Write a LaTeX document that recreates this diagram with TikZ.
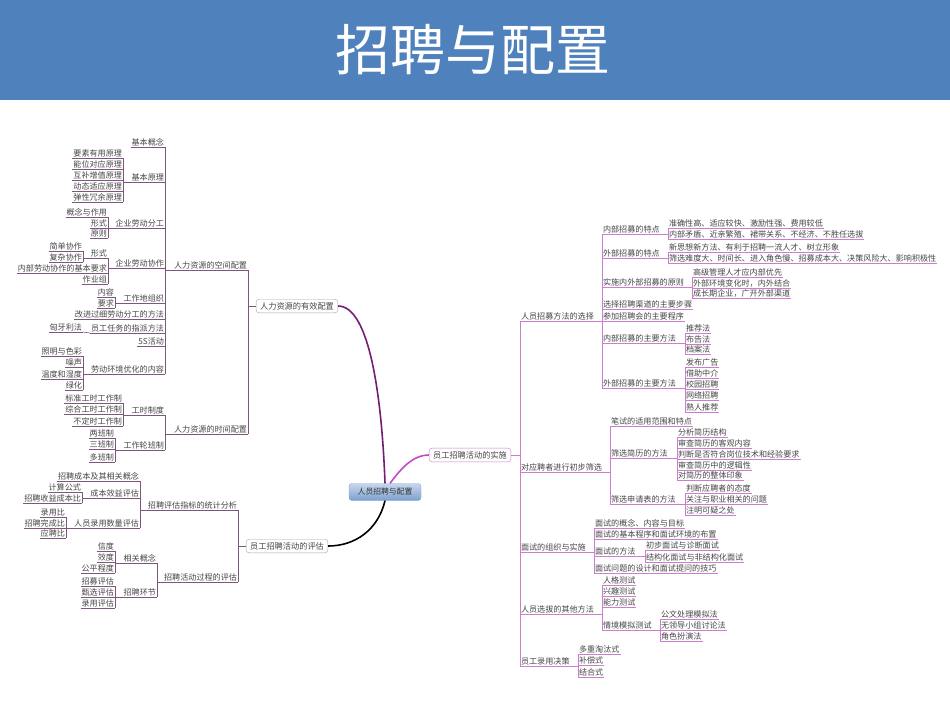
\documentclass[tikz,border=0pt]{standalone}
\usepackage{fontspec}
\setmainfont{Noto Sans CJK SC}
\definecolor{barblue}{RGB}{79,129,189}
\definecolor{lcol}{RGB}{125,85,125}
\definecolor{rcol}{RGB}{205,125,205}
\definecolor{txt}{RGB}{70,70,70}
\definecolor{c1}{RGB}{115,30,115}
\definecolor{c2}{RGB}{200,70,200}
\newcommand\LI[4]{\node[litem] (#1) at (#2,#3) {#4}; \draw[lline] (#1.south west)--(#1.south east);}
\newcommand\RI[4]{\node[ritem] (#1) at (#2,#3) {#4}; \draw[rline] (#1.south west)--(#1.south east);}
\newcommand\grpL[3]{\draw[lline] (#2.south east)--(#3.south east) (#2.south east)--(#2.south east|-#1.south west) (#3.south east)--(#3.south east|-#1.south west)--(#1.south west);}
\newcommand\grpR[3]{\draw[rline] (#2.south west)--(#3.south west) (#2.south west)--(#2.south west|-#1.south east) (#3.south west)--(#3.south west|-#1.south east)--(#1.south east);}
\begin{document}
\begin{tikzpicture}[x=1pt,y=-1pt,
  every node/.style={font=\fontsize{8.1}{8.5}\selectfont,text=txt},
  litem/.style={anchor=south east,inner sep=1pt,outer sep=0pt},
  ritem/.style={anchor=south west,inner sep=1pt,outer sep=0pt},
  lline/.style={draw=lcol,line width=0.6pt},
  rline/.style={draw=rcol,line width=0.6pt},
  box/.style={draw=gray!70,fill=white,rounded corners=3pt,inner xsep=4pt,inner ysep=3pt,font=\fontsize{8.2}{9}\selectfont}]
\useasboundingbox (0,0) rectangle (950,713);
\fill[white] (0,0) rectangle (950,713);
\fill[barblue] (0,0) rectangle (950,100);
\node[text=white,font=\fontsize{55}{58}\selectfont] (title) at (473,50) {招聘与配置};
% center
\node[draw=barblue!70,rounded corners=3pt,top color=blue!8!barblue!30,bottom color=barblue!75,minimum width=72pt,minimum height=17pt,inner sep=2pt,font=\fontsize{7.8}{8}\selectfont,text=black!80] (ctr) at (385,492) {人员招聘与配置};
\node[box] (yx) at (297,306) {人力资源的有效配置};
\node[box] (pg) at (287,546) {员工招聘活动的评估};
\node[box,draw=rcol] (ss) at (470,455) {员工招聘活动的实施};
\draw[c1,line width=1.6pt] (ctr.north) .. controls (382,400) and (370,306) .. (yx.east);
\draw[black,line width=1.6pt] (ctr.south) .. controls (378,530) and (355,546) .. (pg.east);
\draw[c2,line width=1.6pt] (ctr.60) .. controls (400,470) and (412,455) .. (ss.west);
% ===== left top
\LI{sk}{248}{270}{人力资源的空间配置}
\LI{sj}{248}{434}{人力资源的时间配置}
\draw[lline] (sk.south east)--(sj.south east) (yx.west)--(sk.south east|-yx.west);
\LI{jbgn}{165}{147}{基本概念}
\LI{jbyl}{165}{182}{基本原理}
\LI{fg}{165}{228}{企业劳动分工}
\LI{xz}{165}{268}{企业劳动协作}
\LI{gzd}{165}{303}{工作地组织}
\LI{gj}{165}{319}{改进过细劳动分工的方法}
\LI{zp}{165}{333}{员工任务的指派方法}
\LI{s5}{165}{346}{5S活动}
\LI{hj}{165}{374}{劳动环境优化的内容}
\grpL{sk}{jbgn}{hj}
\LI{y1}{123}{158}{要素有用原理}
\LI{y2}{123}{169}{能位对应原理}
\LI{y3}{123}{180}{互补增值原理}
\LI{y4}{123}{191}{动态适应原理}
\LI{y5}{123}{202}{弹性冗余原理}
\grpL{jbyl}{y1}{y5}
\LI{f1}{108}{217}{概念与作用}
\LI{f2}{108}{228}{形式}
\LI{f3}{108}{238}{原则}
\grpL{fg}{f1}{f3}
\LI{x1}{108}{258}{形式}
\LI{x2}{108}{273}{内部劳动协作的基本要求}
\LI{x3}{108}{284}{作业组}
\grpL{xz}{x1}{x3}
\LI{x11}{83}{251}{简单协作}
\LI{x12}{83}{262}{复杂协作}
\grpL{x1}{x11}{x12}
\LI{g1}{115}{297}{内容}
\LI{g2}{115}{308}{要求}
\grpL{gzd}{g1}{g2}
\LI{z1}{83}{332}{匈牙利法}
\draw[lline] (z1.south east)--(zp.south west);
\LI{h1}{83}{356}{照明与色彩}
\LI{h2}{83}{367}{噪声}
\LI{h3}{83}{379}{温度和湿度}
\LI{h4}{83}{390}{绿化}
\grpL{hj}{h1}{h4}
\LI{gs}{165}{415}{工时制度}
\LI{lb}{165}{450}{工作轮班制}
\grpL{sj}{gs}{lb}
\LI{gs1}{123}{403}{标准工时工作制}
\LI{gs2}{123}{414}{综合工时工作制}
\LI{gs3}{123}{426}{不定时工作制}
\grpL{gs}{gs1}{gs3}
\LI{lb1}{115}{438}{两班制}
\LI{lb2}{115}{449}{三班制}
\LI{lb3}{115}{462}{多班制}
\grpL{lb}{lb1}{lb3}
% ===== left bottom
\LI{tj}{238}{510}{招聘评估指标的统计分析}
\LI{gc}{238}{582}{招聘活动过程的评估}
\draw[lline] (tj.south east)--(gc.south east) (pg.west)--(tj.south east|-pg.west);
\LI{t1}{140}{481}{招聘成本及其相关概念}
\LI{t2}{140}{498}{成本效益评估}
\LI{t3}{140}{528}{人员录用数量评估}
\grpL{tj}{t1}{t3}
\LI{t21}{82}{492}{计算公式}
\LI{t22}{82}{503}{招聘收益成本比}
\grpL{t2}{t21}{t22}
\LI{t31}{66}{517}{录用比}
\LI{t32}{66}{528}{招聘完成比}
\LI{t33}{66}{538}{应聘比}
\grpL{t3}{t31}{t33}
\LI{c1n}{157}{563}{相关概念}
\LI{c2n}{157}{597}{招聘环节}
\grpL{gc}{c1n}{c2n}
\LI{c11}{115}{551}{信度}
\LI{c12}{115}{562}{效度}
\LI{c13}{115}{573}{公平程度}
\grpL{c1n}{c11}{c13}
\LI{c21}{115}{586}{招募评估}
\LI{c22}{115}{597}{甄选评估}
\LI{c23}{115}{608}{录用评估}
\grpL{c2n}{c21}{c23}
% ===== right
\RI{zm}{520}{321}{人员招募方法的选择}
\RI{sx}{520}{472}{对应聘者进行初步筛选}
\RI{ms}{520}{552}{面试的组织与实施}
\RI{qt}{520}{614}{人员选拔的其他方法}
\RI{ly}{520}{666}{员工录用决策}
\draw[rline] (zm.south west)--(ly.south west) (ss.east)--(zm.south west|-ss.east);
\RI{m1}{602}{234}{内部招募的特点}
\RI{m2}{602}{258}{外部招募的特点}
\RI{m3}{602}{287}{实施内外部招募的原则}
\RI{m4}{602}{309}{选择招聘渠道的主要步骤}
\RI{m5}{602}{321}{参加招聘会的主要程序}
\RI{m6}{602}{343}{内部招募的主要方法}
\RI{m7}{602}{388}{外部招募的主要方法}
\grpR{zm}{m1}{m7}
\RI{m11}{668}{228}{准确性高、适应较快、激励性强、费用较低}
\RI{m12}{668}{239}{内部矛盾、近亲繁殖、裙带关系、不经济、不胜任选拔}
\grpR{m1}{m11}{m12}
\RI{m21}{668}{252}{新思想新方法、有利于招聘一流人才、树立形象}
\RI{m22}{668}{263}{筛选难度大、时间长、进入角色慢、招募成本大、决策风险大、影响积极性}
\grpR{m2}{m21}{m22}
\RI{m31}{692}{277}{高级管理人才应内部优先}
\RI{m32}{692}{288}{外部环境变化时，内外结合}
\RI{m33}{692}{298}{成长期企业，广开外部渠道}
\grpR{m3}{m31}{m33}
\RI{m61}{685}{333}{推荐法}
\RI{m62}{685}{344}{布告法}
\RI{m63}{685}{354}{档案法}
\grpR{m6}{m61}{m63}
\RI{m71}{685}{367}{发布广告}
\RI{m72}{685}{378}{借助中介}
\RI{m73}{685}{389}{校园招聘}
\RI{m74}{685}{400}{网络招聘}
\RI{m75}{685}{412}{熟人推荐}
\grpR{m7}{m71}{m75}
\RI{s1}{610}{426}{笔试的适用范围和特点}
\RI{s2}{610}{458}{筛选简历的方法}
\RI{s3}{610}{504}{筛选申请表的方法}
\grpR{sx}{s1}{s3}
\RI{s21}{677}{437}{分析简历结构}
\RI{s22}{677}{448}{审查简历的客观内容}
\RI{s23}{677}{459}{判断是否符合岗位技术和经验要求}
\RI{s24}{677}{470}{审查简历中的逻辑性}
\RI{s25}{677}{480}{对简历的整体印象}
\grpR{s2}{s21}{s25}
\RI{s31}{685}{493}{判断应聘者的态度}
\RI{s32}{685}{504}{关注与职业相关的问题}
\RI{s33}{685}{515}{注明可疑之处}
\grpR{s3}{s31}{s33}
\RI{ms1}{594}{528}{面试的概念、内容与目标}
\RI{ms2}{594}{539}{面试的基本程序和面试环境的布置}
\RI{ms3}{594}{556}{面试的方法}
\RI{ms4}{594}{573}{面试问题的设计和面试提问的技巧}
\grpR{ms}{ms1}{ms4}
\RI{ms31}{645}{550}{初步面试与诊断面试}
\RI{ms32}{645}{562}{结构化面试与非结构化面试}
\grpR{ms3}{ms31}{ms32}
\RI{q1}{602}{585}{人格测试}
\RI{q2}{602}{596}{兴趣测试}
\RI{q3}{602}{607}{能力测试}
\RI{q4}{602}{630}{情境模拟测试}
\grpR{qt}{q1}{q4}
\RI{q41}{660}{619}{公文处理模拟法}
\RI{q42}{660}{630}{无领导小组讨论法}
\RI{q43}{660}{641}{角色扮演法}
\grpR{q4}{q41}{q43}
\RI{l1}{578}{654}{多重淘汰式}
\RI{l2}{578}{665}{补偿式}
\RI{l3}{578}{677}{结合式}
\grpR{ly}{l1}{l3}
\end{tikzpicture}
\end{document}
